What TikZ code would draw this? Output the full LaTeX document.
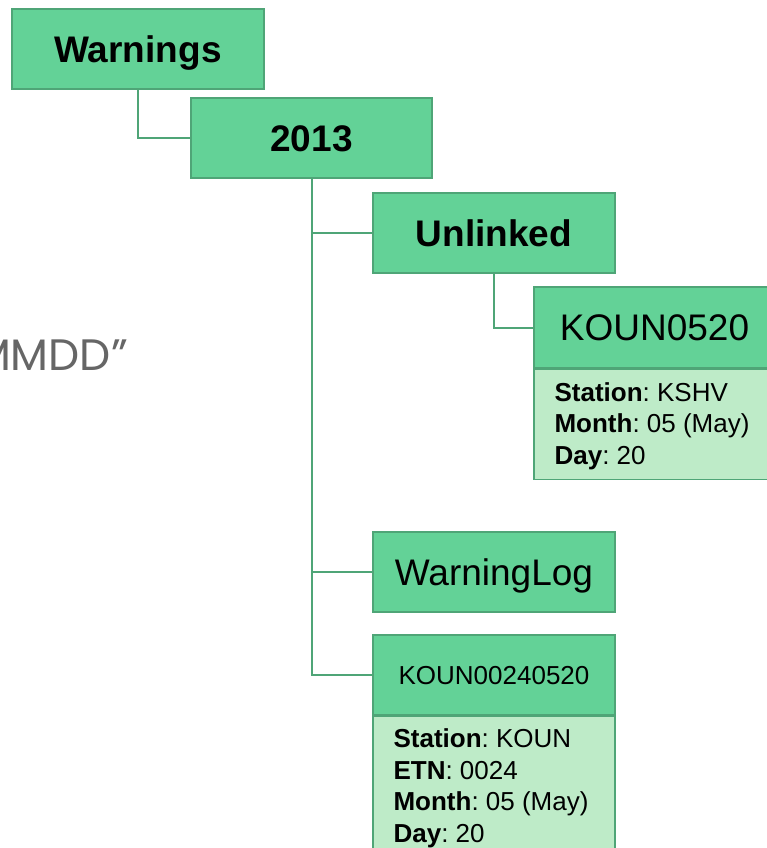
\documentclass[tikz,border=0pt]{standalone}
\usepackage{fontspec}
\setmainfont{Liberation Sans}
\newfontfamily\gothic{Poppins}
\definecolor{headfill}{HTML}{63D297}
\definecolor{bodyfill}{HTML}{BEEBC8}
\definecolor{edge}{HTML}{4FA577}
\definecolor{note}{HTML}{666666}
\frenchspacing
\begin{document}
\begin{tikzpicture}[x=1pt, y=-1pt,
  head/.style={draw=edge, fill=headfill, line width=1.3pt, inner sep=0pt,
    minimum width=242pt, minimum height=80pt, text height=26.5pt, text depth=0pt,
    font=\fontsize{37}{44}\selectfont},
  small/.style={text height=18.8pt, font=\fontsize{26}{31}\selectfont},
  body/.style={draw=edge, fill=bodyfill, line width=1.3pt, inner sep=0pt,
    minimum width=242pt, anchor=north},
  bodytext/.style={anchor=north west, inner sep=0pt, align=left,
    font=\fontsize{26}{31.8}\selectfont},
  conn/.style={draw=edge, line width=2pt}]
  % Canvas
  \clip (0,0) rectangle (767,848);

  % Note text, cut by the left edge
  \node[anchor=base east, inner sep=0pt, text=note, font=\gothic\fontsize{44}{50}\selectfont]
    (fmt) at (128,370) {MMDD”};

  % Folders
  \node[head, minimum width=252pt] (warnings) at (138,49) {\bfseries Warnings};
  \node[head, minimum width=241pt] (y2013) at (311.5,138) {\bfseries 2013};
  \node[head] (unlinked) at (494,233) {\bfseries Unlinked};
  \node[head] (warninglog) at (494,572) {WarningLog};

  % Records
  \node[head, minimum width=241pt, minimum height=81pt] (koun0520) at (654.5,327.5) {KOUN0520};
  \node[body, minimum width=241pt, minimum height=110pt] (koun0520body) at (koun0520.south) {};
  \node[bodytext] (koun0520info) at ([shift={(21,13.5)}]koun0520body.north west)
    {\textbf{Station}: KSHV\\ \textbf{Month}: 05 (May)\\ \textbf{Day}: 20};

  \node[head, small] (koun00240520) at (494,675) {KOUN00240520};
  \node[body, minimum height=170pt] (koun00240520body) at (koun00240520.south) {};
  \node[bodytext] (koun00240520info) at ([shift={(21,12.5)}]koun00240520body.north west)
    {\textbf{Station}: KOUN\\ \textbf{ETN}: 0024\\ \textbf{Month}: 05 (May)\\ \textbf{Day}: 20};

  % Connectors
  \foreach \a/\b in {warnings/y2013, y2013/unlinked, unlinked/koun0520,
                     y2013/warninglog, y2013/koun00240520}
    \draw[conn] (\a.south) |- (\b.west);
\end{tikzpicture}
\end{document}
